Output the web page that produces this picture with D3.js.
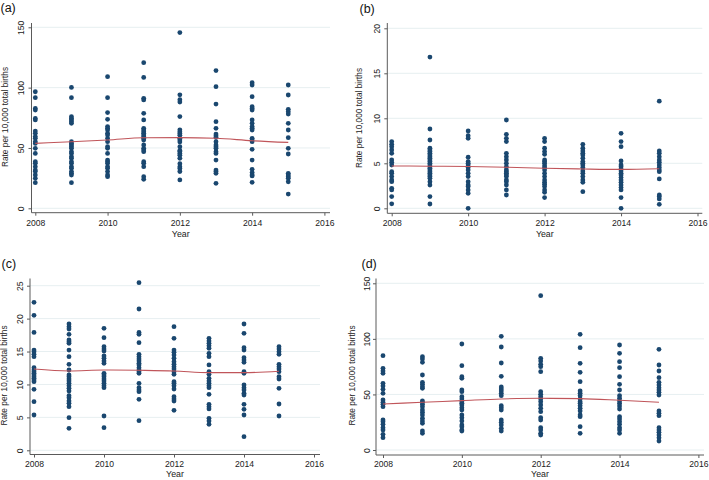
<!DOCTYPE html>
<html>
<head>
<meta charset="utf-8">
<script src="https://cdn.jsdelivr.net/npm/d3@7"></script>
<style>
  html, body { margin: 0; padding: 0; background: #ffffff; }
  svg { display: block; }
  text { font-family: "Liberation Sans", Arial, Helvetica, sans-serif; fill: #222; }
</style>
</head>
<body>
<svg id="chart" width="709" height="480"></svg>
<script>
// ---------------- DATA ----------------
const years = [2008, 2009, 2010, 2011, 2012, 2013, 2014, 2015];
const xTickYears = [2008, 2010, 2012, 2014, 2016];
const panelLabels = ["(a)", "(b)", "(c)", "(d)"];
const xTitle = "Year";
const yTitle = "Rate per 10,000 total births";

const yTicksA = [0, 50, 100, 150];
const yTicksB = [0, 5, 10, 15, 20];
const yTicksC = [0, 5, 10, 15, 20, 25];
const yTicksD = [0, 50, 100, 150];

// rates per year (2008..2015), panel (a)
const ratesA = [
  [96.6, 91.7, 82.8, 81.4, 74.5, 73.2, 64.0, 62.1, 59.4, 58.0, 55.2, 53.8, 49.7, 45.5, 38.6, 37.3, 34.5, 31.7, 30.4, 27.6, 24.8, 21.2],
  [100.2, 91.7, 75.9, 74.5, 73.2, 71.8, 70.4, 55.2, 53.8, 52.5, 51.1, 49.7, 46.9, 45.5, 42.8, 41.4, 38.6, 37.3, 34.5, 33.1, 30.4, 29.0, 27.6, 21.2],
  [109.1, 91.7, 79.3, 73.7, 67.7, 66.3, 64.9, 62.1, 60.8, 58.0, 55.2, 51.1, 49.7, 45.5, 40.0, 38.6, 37.3, 34.5, 33.1, 30.4, 27.6, 26.2],
  [120.7, 108.5, 91.1, 89.8, 78.7, 73.2, 66.3, 64.9, 63.5, 62.1, 60.8, 59.4, 58.0, 56.6, 52.5, 49.7, 48.3, 46.9, 38.6, 37.3, 34.5, 26.2, 24.0],
  [145.6, 94.0, 90.0, 88.0, 76.0, 65.0, 63.5, 62.0, 60.5, 58.0, 56.6, 55.0, 51.0, 48.0, 47.0, 45.5, 44.0, 41.4, 37.0, 34.5, 33.0, 30.5, 23.5],
  [114.1, 100.8, 86.4, 71.8, 66.3, 61.5, 60.2, 58.8, 55.2, 52.5, 51.1, 49.7, 46.9, 45.5, 40.0, 31.7, 30.4, 29.0, 20.7],
  [104.1, 102.2, 92.5, 84.2, 82.8, 81.4, 73.2, 70.4, 67.7, 66.3, 64.9, 58.0, 56.6, 55.2, 48.9, 40.0, 32.3, 29.6, 27.6, 26.8, 21.5],
  [102.2, 93.9, 82.0, 80.1, 78.1, 70.4, 64.9, 58.5, 49.7, 45.0, 29.0, 27.6, 26.2, 24.8, 22.0, 11.8]
];
const trendA = [53.8, 55.2, 56.6, 58.5, 58.6, 58.0, 56.0, 54.6];

// panel (b)
const ratesB = [
  [7.41, 7.11, 6.85, 6.48, 6.11, 5.37, 5.11, 4.81, 4.07, 3.89, 3.52, 3.15, 2.96, 2.22, 2.04, 1.30, 0.5],
  [16.8, 8.81, 7.59, 6.67, 6.48, 6.30, 6.11, 5.93, 5.74, 5.56, 5.37, 5.19, 5.0, 4.81, 4.63, 4.44, 4.26, 4.07, 3.89, 3.70, 3.52, 3.33, 2.96, 2.59, 1.30, 0.48],
  [8.59, 8.07, 7.78, 5.67, 5.19, 5.0, 4.81, 4.52, 4.26, 3.89, 3.52, 2.96, 2.59, 2.41, 2.04, 1.67, 0.0],
  [9.81, 8.22, 7.78, 7.41, 6.11, 5.74, 5.37, 5.0, 4.63, 4.26, 4.07, 3.89, 3.70, 3.52, 3.15, 2.96, 2.59, 2.04, 1.48],
  [7.78, 7.41, 6.67, 6.30, 6.0, 5.37, 5.19, 5.0, 4.74, 4.52, 4.26, 3.89, 3.52, 3.15, 2.89, 2.67, 2.41, 2.04, 1.78, 1.19],
  [7.11, 6.67, 6.37, 6.11, 5.93, 5.56, 5.19, 5.0, 4.81, 4.52, 4.15, 3.89, 3.52, 3.15, 2.89, 1.85],
  [8.33, 7.41, 6.85, 5.26, 4.81, 4.63, 4.37, 4.15, 3.89, 3.70, 3.41, 3.15, 2.89, 2.59, 2.30, 2.04, 1.19, 0.0],
  [11.9, 6.37, 6.11, 5.74, 5.37, 5.11, 4.81, 4.52, 4.26, 4.07, 3.26, 1.48, 1.30, 1.04, 0.44]
];
const trendB = [4.70, 4.68, 4.64, 4.56, 4.45, 4.37, 4.32, 4.40];

// panel (c)
const ratesC = [
  [22.47, 20.50, 17.91, 15.23, 14.98, 14.57, 14.22, 12.55, 12.20, 11.94, 11.69, 11.44, 11.18, 10.93, 10.68, 10.43, 9.26, 7.39, 5.36],
  [19.18, 18.78, 18.42, 17.61, 16.75, 16.50, 16.25, 15.23, 14.22, 13.06, 12.20, 11.44, 11.18, 10.83, 10.53, 10.17, 9.82, 9.41, 9.01, 8.30, 8.0, 7.49, 7.14, 6.63, 4.96, 3.34],
  [18.52, 17.11, 15.74, 15.38, 15.08, 14.32, 13.97, 13.56, 13.21, 11.69, 11.44, 11.18, 10.83, 10.53, 10.17, 9.82, 9.51, 5.21, 3.44],
  [25.46, 21.46, 17.91, 17.61, 16.35, 14.57, 14.22, 13.87, 13.56, 13.21, 12.96, 12.55, 12.20, 11.94, 11.69, 10.17, 9.51, 9.16, 8.91, 7.74, 4.50],
  [18.78, 17.00, 15.23, 14.88, 14.47, 13.97, 13.46, 13.06, 12.70, 12.35, 11.94, 11.54, 10.43, 10.17, 9.82, 9.31, 8.15, 7.79, 7.49, 6.07],
  [17.00, 16.60, 16.25, 15.89, 15.49, 14.73, 14.22, 12.96, 11.94, 11.54, 10.93, 10.53, 10.17, 9.82, 9.51, 8.50, 6.98, 6.63, 6.28, 4.86, 4.45, 3.95],
  [19.18, 17.76, 15.59, 15.23, 14.07, 13.71, 13.36, 11.94, 11.69, 9.92, 9.51, 9.16, 8.65, 8.40, 6.98, 6.22, 5.36, 2.07],
  [15.74, 15.38, 14.98, 14.57, 13.06, 12.70, 12.35, 11.94, 11.18, 10.83, 9.41, 7.03, 5.21]
];
const trendC = [12.35, 12.05, 12.2, 12.15, 12.05, 11.8, 11.8, 12.0];

// panel (d)
const ratesD = [
  [84.9, 73.5, 71.1, 69.0, 60.0, 57.6, 54.6, 51.0, 45.0, 42.9, 41.1, 39.0, 27.0, 25.5, 23.1, 20.1, 18.0, 14.1, 11.1],
  [84.0, 81.9, 78.9, 67.5, 60.9, 59.1, 57.0, 55.5, 44.1, 42.9, 41.1, 39.0, 36.0, 33.9, 31.5, 28.5, 26.1, 24.0, 17.1, 15.0],
  [95.4, 75.9, 66.0, 64.5, 54.0, 52.5, 48.0, 45.9, 43.5, 42.0, 40.5, 38.1, 36.0, 31.5, 29.1, 26.1, 22.5, 21.0, 18.0, 17.1],
  [102.3, 92.7, 78.3, 66.3, 56.7, 54.9, 53.1, 51.0, 48.9, 39.9, 38.1, 36.0, 27.0, 24.9, 22.5, 19.5, 17.1],
  [138.9, 82.5, 80.1, 77.1, 75.0, 70.5, 52.5, 50.1, 48.0, 45.9, 43.5, 40.5, 37.5, 34.5, 29.1, 27.0, 20.1, 18.0, 15.0, 13.5],
  [104.1, 92.1, 78.0, 69.9, 61.5, 53.1, 51.0, 48.9, 45.9, 43.5, 42.0, 39.9, 37.5, 35.1, 31.5, 30.0, 21.0, 15.0],
  [94.5, 87.0, 79.5, 74.1, 66.0, 59.1, 54.0, 48.9, 46.5, 44.1, 42.0, 39.6, 36.9, 30.0, 27.9, 25.5, 23.1, 20.1, 18.0, 15.0],
  [90.6, 76.5, 71.1, 65.1, 60.9, 58.5, 56.1, 54.0, 51.9, 49.5, 35.1, 33.0, 30.9, 20.1, 18.0, 15.9, 13.5, 11.1, 8.1]
];
const trendD = [41.4, 42.9, 44.4, 45.9, 46.5, 46.2, 44.7, 42.9];

// ---------------- LAYOUT (pixel geometry per panel) ----------------
const panels = [
  { label: panelLabels[0], rates: ratesA, trend: trendA, yTicks: yTicksA, yMax: 150,
    labelX: 0.5, labelY: 11.5,
    axisLeft: 31.5, axisRight: 330, axisBottom: 212.7, axisTop: 23,
    xr: [35.3, 324.4], yr: [208.3, 27.3],
    yTickLabelX: 23.6, yTitleX: 8.4, yTitleY: 117, xTickLabelY: 226.3, xTitleY: 237 },
  { label: panelLabels[1], rates: ratesB, trend: trendB, yTicks: yTicksB, yMax: 20,
    labelX: 359.5, labelY: 12.5,
    axisLeft: 387.3, axisRight: 702.3, axisBottom: 213.3, axisTop: 23,
    xr: [391.7, 697.5], yr: [208.3, 28.3],
    yTickLabelX: 380, yTitleX: 362, yTitleY: 118, xTickLabelY: 226.3, xTitleY: 237 },
  { label: panelLabels[2], rates: ratesC, trend: trendC, yTicks: yTicksC, yMax: 25,
    labelX: 1.5, labelY: 268,
    axisLeft: 30, axisRight: 320, axisBottom: 454.5, axisTop: 278.5,
    xr: [34, 314], yr: [450.3, 285.7],
    yTickLabelX: 23.4, yTitleX: 7.2, yTitleY: 375.5, xTickLabelY: 466.5, xTitleY: 477.2 },
  { label: panelLabels[3], rates: ratesD, trend: trendD, yTicks: yTicksD, yMax: 150,
    labelX: 361.5, labelY: 268,
    axisLeft: 376, axisRight: 704, axisBottom: 455, axisTop: 278.5,
    xr: [383, 698.4], yr: [450, 283.3],
    yTickLabelX: 369.6, yTitleX: 355, yTitleY: 375.5, xTickLabelY: 466.5, xTitleY: 477.2 }
];

const dotColor = "#1a476f";
const trendColor = "#c0555a";
const gridColor = "#e7eff1";
const axisColor = "#5a5a5a";

const svg = d3.select("#chart");

panels.forEach(p => {
  const g = svg.append("g");
  const x = d3.scaleLinear().domain([2008, 2016]).range(p.xr);
  const y = d3.scaleLinear().domain([0, p.yMax]).range(p.yr);

  // gridlines
  g.append("g").selectAll("line").data(p.yTicks).join("line")
    .attr("x1", p.axisLeft).attr("x2", p.axisRight)
    .attr("y1", d => y(d)).attr("y2", d => y(d))
    .attr("stroke", gridColor).attr("stroke-width", 1);

  // y axis
  const yAxis = d3.axisLeft(y).tickValues(p.yTicks).tickSize(3).tickFormat(d3.format("d"));
  const ya = g.append("g").attr("transform", `translate(${p.axisLeft},0)`).call(yAxis);
  ya.select(".domain").remove();
  ya.selectAll(".tick line").attr("stroke", axisColor);
  ya.selectAll(".tick text")
    .attr("x", 0).attr("y", 0).attr("dy", null)
    .attr("transform", function() {
      return `translate(${p.yTickLabelX - p.axisLeft},0) rotate(-90)`;
    })
    .attr("text-anchor", "middle")
    .style("font-size", "8.6px").style("fill", "#222")
    .style("font-family", '"Liberation Sans", Arial, sans-serif');
  g.append("line")
    .attr("x1", p.axisLeft).attr("x2", p.axisLeft)
    .attr("y1", p.axisTop).attr("y2", p.axisBottom)
    .attr("stroke", axisColor).attr("stroke-width", 1);

  // x axis
  const xAxis = d3.axisBottom(x).tickValues(xTickYears).tickSize(3).tickFormat(d3.format("d"));
  const xa = g.append("g").attr("transform", `translate(0,${p.axisBottom})`).call(xAxis);
  xa.select(".domain").remove();
  xa.selectAll(".tick line").attr("stroke", axisColor);
  xa.selectAll(".tick text")
    .attr("y", p.xTickLabelY - p.axisBottom).attr("dy", null)
    .style("font-size", "8.6px").style("fill", "#222")
    .style("font-family", '"Liberation Sans", Arial, sans-serif');
  g.append("line")
    .attr("x1", p.axisLeft).attr("x2", p.axisRight)
    .attr("y1", p.axisBottom).attr("y2", p.axisBottom)
    .attr("stroke", axisColor).attr("stroke-width", 1);

  // titles
  g.append("text")
    .attr("x", (p.axisLeft + p.axisRight) / 2).attr("y", p.xTitleY)
    .attr("text-anchor", "middle").style("font-size", "8.8px")
    .text(xTitle);
  g.append("text")
    .attr("transform", `translate(${p.yTitleX},${p.yTitleY}) rotate(-90)`)
    .attr("text-anchor", "middle").style("font-size", "8.3px")
    .text(yTitle);
  g.append("text")
    .attr("x", p.labelX).attr("y", p.labelY)
    .style("font-size", "12.5px").style("fill", "#111")
    .text(p.label);

  // points
  const pts = [];
  p.rates.forEach((arr, i) => arr.forEach(v => pts.push({ yr: years[i], v })));
  g.append("g").selectAll("circle").data(pts).join("circle")
    .attr("cx", d => x(d.yr)).attr("cy", d => y(d.v))
    .attr("r", 2.4).attr("fill", dotColor);

  // trend line
  const line = d3.line().x((d, i) => x(years[i])).y(d => y(d)).curve(d3.curveMonotoneX);
  g.append("path").datum(p.trend)
    .attr("d", line).attr("fill", "none")
    .attr("stroke", trendColor).attr("stroke-width", 1.1);
});
</script>
</body>
</html>
